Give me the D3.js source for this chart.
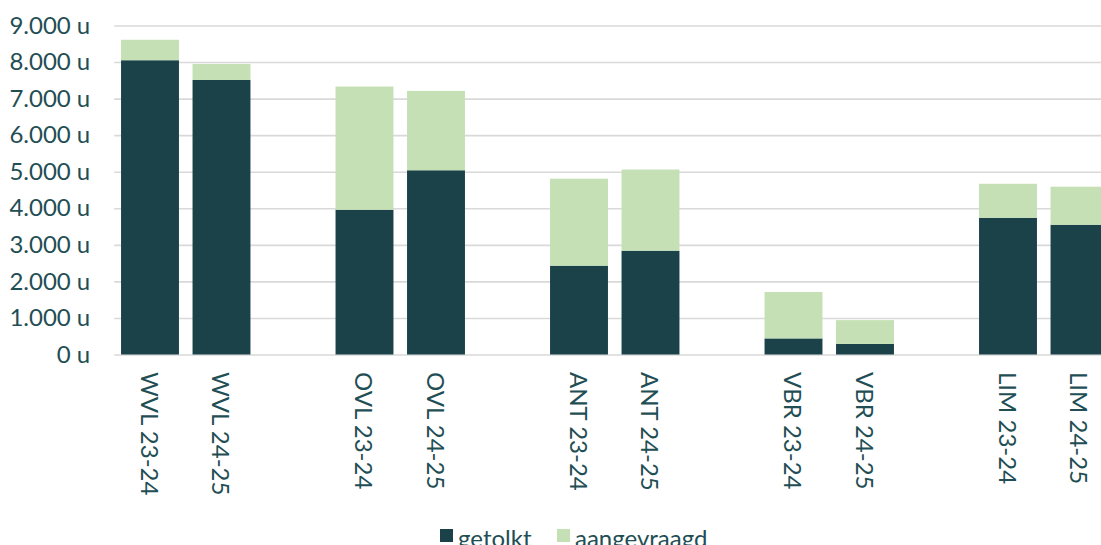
<!DOCTYPE html>
<html><head><meta charset="utf-8">
<script src="https://cdn.jsdelivr.net/npm/d3@7"></script>
<style>
html,body{margin:0;padding:0;background:#fff;overflow:hidden;}
svg{display:block;font-family:Lato, "Open Sans", sans-serif;}
</style></head>
<body>
<svg id="chart" width="1101" height="545"></svg>
<script>
// Data (empty strings are blank spacer slots between regions)
const categories = ["WVL 23-24","WVL 24-25","","OVL 23-24","OVL 24-25","","ANT 23-24","ANT 24-25","","VBR 23-24","VBR 24-25","","LIM 23-24","LIM 24-25",""];
const getolkt     = [8050, 7510, null, 3960, 5040, null, 2430, 2840, null, 440, 290, null, 3740, 3550, null];
const aangevraagd = [560,  440,  null, 3370, 2170, null, 2380, 2220, null, 1270, 650, null, 930, 1040, null];
const seriesNames = ["getolkt","aangevraagd"];
const yTicks = [0,1000,2000,3000,4000,5000,6000,7000,8000,9000];

const colors = {getolkt:"#1b4249", aangevraagd:"#c5e0b4"};
const textColor = "#1f4e54";

const svg = d3.select("#chart");
const x = d3.scaleBand().domain(d3.range(categories.length)).range([114.25, 1186.75]).paddingInner(0.19).paddingOuter(0.095);
const y = d3.scaleLinear().domain([0, 9000]).range([354.5, 25.5]);

const fmt = v => (v === 0 ? "0" : d3.format(",")(v).replace(/,/g, ".")) + " u";

// gridlines
const yAxis = d3.axisLeft(y).tickValues(yTicks).tickSize(-(1186.75-114.25)).tickFormat(fmt).tickPadding(24);
const gy = svg.append("g").attr("transform","translate(114.25,0)").call(yAxis);
gy.select(".domain").remove();
gy.selectAll(".tick line").attr("stroke","#d9d9d9").attr("stroke-width",1.6);
gy.selectAll(".tick text").attr("fill",textColor).attr("font-size",24).attr("font-family","Lato").attr("dx",0);

// bars
const rows = categories.map((c,i)=>({i, c, g:getolkt[i], a:aangevraagd[i]})).filter(d=>d.c!=="");
const bars = svg.append("g");
bars.selectAll("rect.g").data(rows).join("rect")
  .attr("x", d=>x(d.i)).attr("width", x.bandwidth())
  .attr("y", d=>y(d.g)).attr("height", d=>y(0)-y(d.g))
  .attr("fill", colors.getolkt);
bars.selectAll("rect.a").data(rows).join("rect")
  .attr("x", d=>x(d.i)).attr("width", x.bandwidth())
  .attr("y", d=>y(d.g+d.a)).attr("height", d=>y(d.g)-y(d.g+d.a))
  .attr("fill", colors.aangevraagd);

// x labels (rotated)
svg.append("g").selectAll("text").data(rows).join("text")
  .attr("transform", d=>`translate(${x(d.i)+x.bandwidth()/2},372) rotate(90)`)
  .attr("dominant-baseline","central")
  .attr("text-anchor","start")
  .attr("fill",textColor).attr("font-size",24)
  .text(d=>d.c);

// legend
const legend = svg.append("g");
const lx = [440, 557];
seriesNames.forEach((s,k)=>{
  legend.append("rect").attr("x",lx[k]).attr("y",529).attr("width",13).attr("height",13).attr("fill",colors[s]);
  legend.append("text").attr("x",lx[k]+18).attr("y",537).attr("dominant-baseline","central")
    .attr("fill",textColor).attr("font-size",24).text(s);
});
</script>
</body></html>
